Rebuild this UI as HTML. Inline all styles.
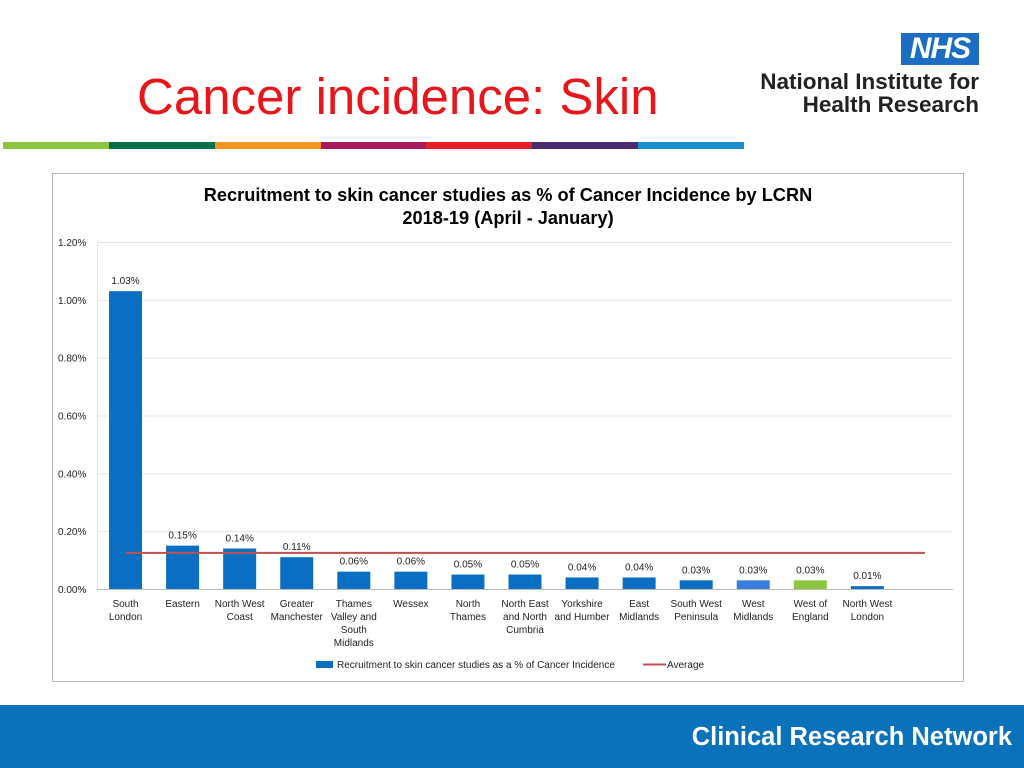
<!DOCTYPE html>
<html><head><meta charset="utf-8"><style>
body{margin:0;width:1024px;height:768px;position:relative;background:#fff;font-family:"Liberation Sans",sans-serif;overflow:hidden}
.abs{position:absolute}
</style></head><body>
<div class="abs" style="left:137px;top:67px;font-size:51px;color:#e8161b;line-height:60px">Cancer incidence: Skin</div>
<div class="abs" style="left:901px;top:33px;width:78px;height:32px;background:#1b6ec2;color:#fff;font-weight:bold;font-style:italic;font-size:30px;line-height:32px;text-align:center;letter-spacing:-1px">NHS</div>
<div class="abs" style="left:700px;top:70px;width:279px;text-align:right;font-size:22.5px;line-height:23px;color:#222;font-weight:bold">National Institute for<br>Health Research</div>
<div class="abs" style="left:3px;top:142px;width:741px;height:7px;display:flex">
<div style="flex:1;background:#8cc63f"></div><div style="flex:1;background:#00704a"></div><div style="flex:1;background:#f7941d"></div><div style="flex:1;background:#a6195e"></div><div style="flex:1;background:#e41f26"></div><div style="flex:1;background:#4b2a6e"></div><div style="flex:1;background:#1b8ed0"></div></div>
<div class="abs" style="left:0;top:705px;width:1024px;height:63px;background:#0a72bb"></div>
<div class="abs" style="right:12px;top:723px;color:#fff;font-weight:bold;font-size:25.5px">Clinical Research Network</div>
<svg class="abs" style="left:0;top:0" width="1024" height="768" id="chart">
<rect x="52.5" y="173.5" width="911" height="508" fill="#fff" stroke="#bbb"/>
<text x="508" y="201" text-anchor="middle" font-size="18.2" font-weight="bold" fill="#000" font-family="Liberation Sans">Recruitment to skin cancer studies as % of Cancer Incidence by LCRN</text>
<text x="508" y="224" text-anchor="middle" font-size="18.2" font-weight="bold" fill="#000" font-family="Liberation Sans">2018-19 (April - January)</text>
</svg>
<script>
const categories=[["South","London"],["Eastern"],["North West","Coast"],["Greater","Manchester"],["Thames","Valley and","South","Midlands"],["Wessex"],["North","Thames"],["North East","and North","Cumbria"],["Yorkshire","and Humber"],["East","Midlands"],["South West","Peninsula"],["West","Midlands"],["West of","England"],["North West","London"]];
const values=[1.03,0.15,0.14,0.11,0.06,0.06,0.05,0.05,0.04,0.04,0.03,0.03,0.03,0.01];
const valueLabels=["1.03%","0.15%","0.14%","0.11%","0.06%","0.06%","0.05%","0.05%","0.04%","0.04%","0.03%","0.03%","0.03%","0.01%"];
const average=0.125;
const yTicks=[0,0.2,0.4,0.6,0.8,1.0,1.2];
const yTickLabels=["0.00%","0.20%","0.40%","0.60%","0.80%","1.00%","1.20%"];
const svg=document.getElementById('chart');const NS='http://www.w3.org/2000/svg';
const x0=97,x1=953,y0=589,y1=242,step=(x1-x0)/15;
const y=v=>y0-(v/1.2)*(y0-y1);
const xc=i=>x0+step*(i+0.5);
function mk(t,a,txt){const e=document.createElementNS(NS,t);for(const k in a)e.setAttribute(k,a[k]);if(txt!=null)e.textContent=txt;svg.appendChild(e);return e;}
yTicks.forEach((v,i)=>{
const g=mk('line',{x1:x0,x2:x1,y1:y(v)+.5,y2:y(v)+.5,stroke:i==0?'#bbb':'#e4e4e4'});


const t=mk('text',{x:58,y:y(v)+4,'font-size':10,fill:'#222','font-family':'Liberation Sans'},yTickLabels[i]);


});
mk('line',{x1:x0+.5,x2:x0+.5,y1:y1,y2:y0,stroke:'#e4e4e4'});
values.forEach((v,i)=>{
const col=i==11?'#3a7de0':i==12?'#8cc63f':'#0a6fc2';
const b=mk('rect',{x:xc(i)-16.5,y:y(v),width:33,height:y0-y(v),fill:col});


const l=mk('text',{x:xc(i),y:y(v)-7,'text-anchor':'middle','font-size':10,fill:'#222','font-family':'Liberation Sans'},valueLabels[i]);


categories[i].forEach((s,j)=>{
const c=mk('text',{x:xc(i),y:607+j*13,'text-anchor':'middle','font-size':10,fill:'#222','font-family':'Liberation Sans'},s);


});
});
const av=mk('line',{x1:xc(0),x2:925,y1:y(average),y2:y(average),stroke:'#c0504d','stroke-width':2});


const lr=mk('rect',{x:316,y:661,width:17,height:7,fill:'#0a6fc2'});


const lt=mk('text',{x:337,y:668,'font-size':10,fill:'#222','font-family':'Liberation Sans'},'Recruitment to skin cancer studies as a % of Cancer Incidence');


const ll=mk('line',{x1:643,x2:666,y1:664.5,y2:664.5,stroke:'#c0504d','stroke-width':2});


const la=mk('text',{x:667,y:668,'font-size':10,fill:'#222','font-family':'Liberation Sans'},'Average');


</script>
</body></html>
